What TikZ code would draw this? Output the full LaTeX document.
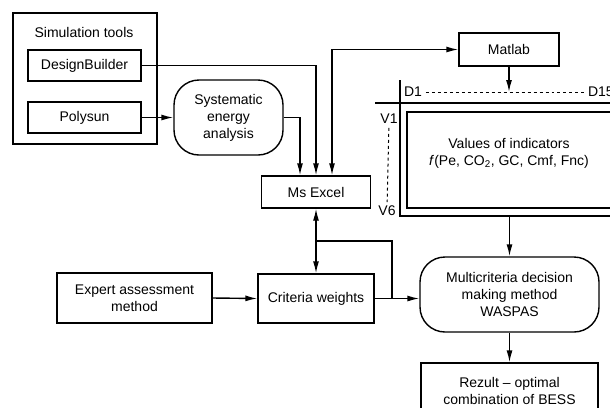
\documentclass[tikz,border=0pt]{standalone}
\usepackage{fontspec}
\setmainfont{Liberation Sans}
\usetikzlibrary{arrows.meta}
\begin{document}
\begin{tikzpicture}[x=1bp,y=-1bp,line width=1.4bp,
  font=\fontsize{14bp}{17bp}\selectfont,
  box/.style={draw,rectangle,inner sep=0pt,align=center},
  oval/.style={box,rounded corners=25bp},
  arr/.style={-{Latex[length=12bp,width=6bp]}},
  dblarr/.style={{Latex[length=12bp,width=6bp]}-{Latex[length=12bp,width=6bp]}}]
\useasboundingbox (0,0) rectangle (610,407);
\clip (0,0) rectangle (610,407);

\node[box,minimum width=144bp,minimum height=131bp] (sim) at (85,78.5) {};
\node (simtitle) at (84,32) {Simulation tools};
\node[box,minimum width=113bp,minimum height=31bp] (dbuild) at (84.5,65.5) {DesignBuilder};
\node[box,minimum width=113bp,minimum height=31bp] (poly) at (84.5,117.5) {Polysun};
\node[oval,minimum width=109bp,minimum height=75bp] (sea) at (228.5,117.5) {Systematic\\energy\\analysis};
\node[box,minimum width=109bp,minimum height=32bp] (excel) at (316,192) {Ms Excel};
\node[box,minimum width=100bp,minimum height=33bp] (matlab) at (509,49.5) {Matlab};
\node[box,minimum width=155bp,minimum height=50bp] (expert) at (134.5,298) {Expert assessment\\method};
\node[box,minimum width=116bp,minimum height=49bp] (crit) at (316,298.5) {Criteria weights};
\node[oval,minimum width=179bp,minimum height=75bp] (mcdm) at (509.5,294.5) {Multicriteria decision\\making method\\WASPAS};
\node[box,minimum width=177bp,minimum height=56bp] (result) at (509.5,391) {Rezult -- optimal\\combination of BESS};

\node[box,minimum width=204bp,minimum height=96bp] (vals) at (509,160) {};
\node[align=center] (valtxt) at (509,153) {Values of indicators\\\textit{f}(Pe, CO\textsubscript{2}, GC, Cmf, Fnc)};
\draw (400,80) -- (400,216) -- (615,216);
\draw (375,103) -- (615,103);
\node (d1) at (413,92) {D1};
\node[anchor=west] (d15) at (584,92) {D15};
\node (v1) at (389,119) {V1};
\node (v6) at (387,211) {V6};
\draw[dashed,line width=1bp] (d1) -- (d15);
\draw[dashed,line width=1bp] (v1) -- (v6);
\coordinate (frb) at (509.5,216);
\coordinate (jn) at (392,241);

\draw[arr] (poly.east) -- (sea.west);
\draw[arr] (dbuild.east) -| (excel.north);
\draw[arr] (sea.east) -| ([xshift=-16bp]excel.north);
\draw[dblarr] ([xshift=16bp]excel.north) |- (matlab.west);
\draw[arr] (matlab.south) -- (matlab.south |- d1.east);
\draw[arr] (expert.east) -- (crit.west);
\draw[dblarr] (excel.south) -- (crit.north);
\draw[arr] (crit.east) -- (crit.east -| mcdm.west);
\draw (jn |- crit.east) -- (jn) -- (jn -| excel.south);
\draw[arr] (frb) -- (mcdm.north);
\draw[arr] (mcdm.south) -- (result.north);
\end{tikzpicture}
\end{document}
